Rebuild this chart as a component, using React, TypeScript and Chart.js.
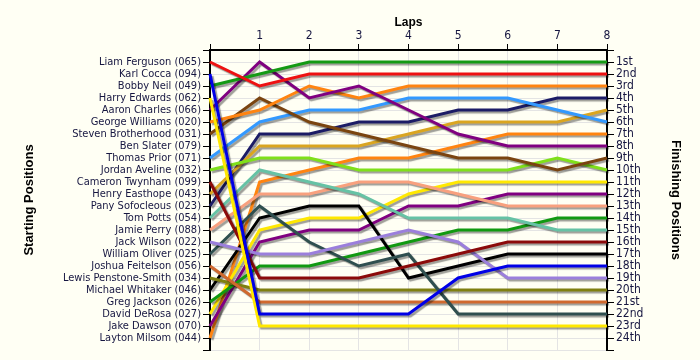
import React, { useEffect, useRef } from 'react';
import { Chart, registerables } from 'chart.js';

Chart.register(...registerables);

const laps = [0, 1, 2, 3, 4, 5, 6, 7, 8];

const startingNames = [
  'Liam Ferguson (065)',
  'Karl Cocca (094)',
  'Bobby Neil (049)',
  'Harry Edwards (062)',
  'Aaron Charles (066)',
  'George Williams (020)',
  'Steven Brotherhood (031)',
  'Ben Slater (079)',
  'Thomas Prior (071)',
  'Jordan Aveline (032)',
  'Cameron Twynham (099)',
  'Henry Easthope (043)',
  'Pany Sofocleous (023)',
  'Tom Potts (054)',
  'Jamie Perry (088)',
  'Jack Wilson (022)',
  'William Oliver (025)',
  'Joshua Feitelson (056)',
  'Lewis Penstone-Smith (034)',
  'Michael Whitaker (046)',
  'Greg Jackson (026)',
  'David DeRosa (027)',
  'Jake Dawson (070)',
  'Layton Milsom (044)',
];

const finishingLabels = [
  '1st', '2nd', '3rd', '4th', '5th', '6th', '7th', '8th', '9th', '10th', '11th', '12th',
  '13th', '14th', '15th', '16th', '17th', '18th', '19th', '20th', '21st', '22nd', '23rd', '24th',
];

// Position of each driver at laps 0..8
const liamFerguson = [1, 3, 2, 2, 2, 2, 2, 2, 2];
const karlCocca = [2, 22, 22, 22, 22, 19, 18, 18, 18];
const bobbyNeil = [3, 2, 1, 1, 1, 1, 1, 1, 1];
const harryEdwards = [4, 23, 23, 23, 23, 23, 23, 23, 23];
const aaronCharles = [5, 1, 4, 3, 5, 7, 8, 8, 8];
const georgeWilliams = [6, 5, 3, 4, 3, 3, 3, 3, 3];
const stevenBrotherhood = [7, 4, 6, 7, 8, 9, 9, 10, 9];
const benSlater: number[] = [];
const thomasPrior = [9, 6, 5, 5, 4, 4, 4, 5, 6];
const jordanAveline = [10, 9, 9, 10, 10, 10, 10, 9, 10];
const cameronTwynham = [11, 19, 19, 19, 18, 17, 16, 16, 16];
const henryEasthope = [12, 8, 8, 8, 7, 6, 6, 6, 5];
const panySofocleous = [13, 7, 7, 6, 6, 5, 5, 4, 4];
const tomPotts = [14, 10, 11, 12, 14, 14, 14, 15, 15];
const jamiePerry = [15, 12, 12, 11, 11, 12, 13, 13, 13];
const jackWilson = [16, 17, 17, 16, 15, 16, 19, 19, 19];
const williamOliver = [17, 13, 16, 18, 17, 22, 22, 22, 22];
const joshuaFeitelson = [18, 21, 21, 21, 21, 21, 21, 21, 21];
const lewisPenstoneSmith = [19, 20, 20, 20, 20, 20, 20, 20, 20];
const michaelWhitaker = [20, 14, 13, 13, 19, 18, 17, 17, 17];
const gregJackson = [21, 18, 18, 17, 16, 15, 15, 14, 14];
const davidDeRosa = [22, 15, 14, 14, 12, 11, 11, 11, 11];
const jakeDawson = [23, 16, 15, 15, 13, 13, 12, 12, 12];
const laytonMilsom = [24, 11, 10, 9, 9, 8, 7, 7, 7];

const driverSeries: number[][] = [
  liamFerguson, karlCocca, bobbyNeil, harryEdwards, aaronCharles, georgeWilliams,
  stevenBrotherhood, benSlater, thomasPrior, jordanAveline, cameronTwynham, henryEasthope,
  panySofocleous, tomPotts, jamiePerry, jackWilson, williamOliver, joshuaFeitelson,
  lewisPenstoneSmith, michaelWhitaker, gregJackson, davidDeRosa, jakeDawson, laytonMilsom,
];

const driverColors = [
  '#ee1111', '#0000e6', '#149a14', '#ffe800', '#800080', '#ff8410',
  '#7a4410', '#888888', '#3399ff', '#7fe01a', '#8b0a0a', '#daa520',
  '#1c1c66', '#66c2a5', '#f8a07e', '#9b7fdc', '#2f4f4f', '#d0692e',
  '#7f7f10', '#000000', '#119911', '#ffe800', '#800080', '#ff8410',
];

const BG = '#fffff4';
const TEXT = '#161640';
const LABEL_FONT = '"DejaVu Sans Condensed", "Liberation Sans", Arial, sans-serif';
const TITLE_FONT = '"Liberation Sans", Arial, sans-serif';

const shadowPlugin = {
  id: 'lineShadow',
  beforeDatasetDraw(chart: any) {
    const ctx = chart.ctx;
    ctx.save();
    ctx.shadowColor = 'rgba(0,0,0,0.38)';
    ctx.shadowOffsetX = 2;
    ctx.shadowOffsetY = 2;
    ctx.shadowBlur = 1;
  },
  afterDatasetDraw(chart: any) {
    chart.ctx.restore();
  },
};

const bgPlugin = {
  id: 'bgFill',
  beforeDraw(chart: any) {
    const ctx = chart.ctx;
    ctx.save();
    ctx.fillStyle = BG;
    ctx.fillRect(0, 0, chart.width, chart.height);
    ctx.restore();
  },
};

export default function App() {
  const canvasRef = useRef<HTMLCanvasElement | null>(null);

  useEffect(() => {
    document.body.style.margin = '0';
    document.body.style.background = BG;
    const canvas = canvasRef.current;
    if (!canvas) return;

    const datasets = driverSeries.map((series, i) => ({
      label: startingNames[i],
      data: series.map((pos, j) => ({ x: laps[j], y: pos })),
      borderColor: driverColors[i],
      backgroundColor: driverColors[i],
      borderWidth: 3,
      pointRadius: 0,
      pointHoverRadius: 0,
      tension: 0,
      fill: false,
      clip: 6,
      yAxisID: 'y',
    }));

    const chart = new Chart(canvas, {
      type: 'line',
      data: { datasets },
      plugins: [bgPlugin, shadowPlugin],
      options: {
        animation: false,
        responsive: false,
        maintainAspectRatio: false,
        layout: { padding: { top: 0, bottom: 10, left: 0, right: 0 } },
        plugins: {
          legend: { display: false },
          tooltip: { enabled: false },
        },
        scales: {
          x: {
            type: 'linear',
            position: 'top',
            min: 0,
            max: 8,
            afterFit: (scale: any) => { scale.height = 50; },
            ticks: {
              stepSize: 1,
              padding: 1,
              color: TEXT,
              font: { family: LABEL_FONT, size: 12 },
              callback: (v: any) => (v === 0 ? '' : String(v)),
            },
            grid: {
              color: '#e4e4e4',
              lineWidth: 1,
              tickColor: '#000000',
              tickLength: 6,
              drawOnChartArea: true,
            },
            border: { display: true, color: '#000000', width: 2 },
            title: {
              display: true,
              text: 'Laps',
              color: '#000000',
              font: { family: TITLE_FONT, size: 12, weight: 'bold' },
              padding: { top: 15, bottom: 0 },
            },
          },
          y: {
            type: 'linear',
            position: 'left',
            min: 0,
            max: 25,
            reverse: true,
            afterFit: (scale: any) => { scale.width = 210; },
            afterBuildTicks: (scale: any) => {
              scale.ticks = Array.from({ length: 26 }, (_, i) => ({ value: i }));
            },
            ticks: {
              autoSkip: false,
              padding: 2,
              color: TEXT,
              font: { family: LABEL_FONT, size: 11 },
              callback: (v: any) => startingNames[v - 1] ?? '',
            },
            grid: {
              color: '#e4e4e4',
              lineWidth: 1,
              tickColor: '#000000',
              tickLength: 7,
              drawOnChartArea: true,
            },
            border: { display: true, color: '#000000', width: 2 },
            title: {
              display: true,
              text: 'Starting Positions',
              color: '#000000',
              font: { family: TITLE_FONT, size: 13, weight: 'bold' },
              padding: { top: 22, bottom: 0 },
            },
          },
          y2: {
            type: 'linear',
            position: 'right',
            min: 0,
            max: 25,
            reverse: true,
            afterFit: (scale: any) => { scale.width = 93; },
            afterBuildTicks: (scale: any) => {
              scale.ticks = Array.from({ length: 26 }, (_, i) => ({ value: i }));
            },
            ticks: {
              autoSkip: false,
              padding: 2,
              color: TEXT,
              font: { family: LABEL_FONT, size: 12 },
              callback: (v: any) => finishingLabels[v - 1] ?? '',
            },
            grid: {
              drawOnChartArea: false,
              tickColor: '#000000',
              tickLength: 7,
            },
            border: { display: true, color: '#000000', width: 2 },
            title: {
              display: true,
              text: 'Finishing Positions',
              color: '#000000',
              font: { family: TITLE_FONT, size: 13, weight: 'bold' },
              padding: { top: 17, bottom: 0 },
            },
          },
        },
      } as any,
    });

    return () => chart.destroy();
  }, []);

  return (
    <div style={{ width: 700, height: 360, background: BG }}>
      <canvas ref={canvasRef} width={700} height={360} style={{ display: 'block', width: 700, height: 360 }} />
    </div>
  );
}
